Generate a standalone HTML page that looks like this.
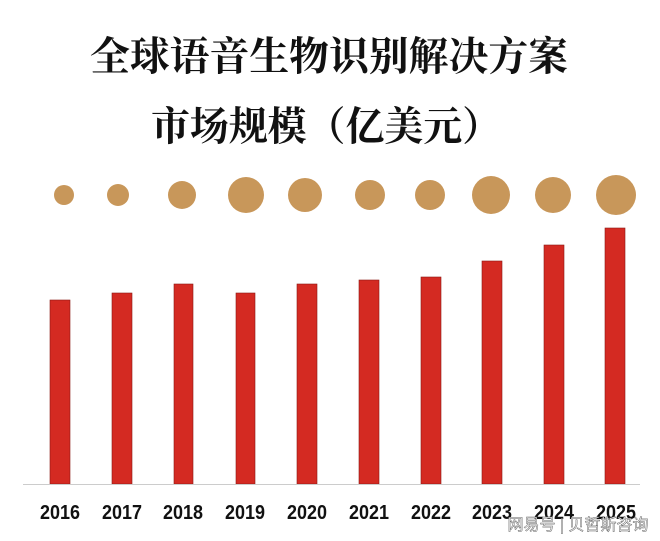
<!DOCTYPE html>
<html><head><meta charset="utf-8"><style>
body{margin:0;background:#fff;}
svg{display:block}
</style></head><body>
<svg width="660" height="541" xmlns="http://www.w3.org/2000/svg">
<rect width="660" height="541" fill="#fff"/>
<g font-family="Liberation Serif, Noto Serif CJK SC, serif" font-weight="bold" fill="#111" text-anchor="middle">
<text x="329" y="70" font-size="40" textLength="478" lengthAdjust="spacingAndGlyphs">全球语音生物识别解决方案</text>
<text x="326" y="140" font-size="40" textLength="350" lengthAdjust="spacingAndGlyphs">市场规模（亿美元）</text>
</g>
<g fill="#c8975a">
<circle cx="64" cy="195" r="10"/>
<circle cx="118" cy="195" r="11"/>
<circle cx="182" cy="195" r="14"/>
<circle cx="246" cy="195" r="18"/>
<circle cx="305" cy="195" r="17"/>
<circle cx="370" cy="195" r="15"/>
<circle cx="430" cy="195" r="15"/>
<circle cx="491" cy="195" r="19"/>
<circle cx="553" cy="195" r="18"/>
<circle cx="616" cy="195" r="20"/>
</g>
<g fill="#d42a22" stroke="#8a1a15" stroke-width="0.6">
<rect x="50" y="300" width="20" height="184"/>
<rect x="112" y="293" width="20" height="191"/>
<rect x="174" y="284" width="19" height="200"/>
<rect x="236" y="293" width="19" height="191"/>
<rect x="297" y="284" width="20" height="200"/>
<rect x="359" y="280" width="20" height="204"/>
<rect x="421" y="277" width="20" height="207"/>
<rect x="482" y="261" width="20" height="223"/>
<rect x="544" y="245" width="20" height="239"/>
<rect x="605" y="228" width="20" height="256"/>
</g>
<line x1="23" y1="484.5" x2="640" y2="484.5" stroke="#ccc" stroke-width="1"/>
<g font-family="Liberation Sans, sans-serif" font-weight="bold" font-size="20" fill="#111" text-anchor="middle">
<text x="60" y="519" textLength="40" lengthAdjust="spacingAndGlyphs">2016</text><text x="122" y="519" textLength="40" lengthAdjust="spacingAndGlyphs">2017</text><text x="183" y="519" textLength="40" lengthAdjust="spacingAndGlyphs">2018</text>
<text x="245" y="519" textLength="40" lengthAdjust="spacingAndGlyphs">2019</text><text x="307" y="519" textLength="40" lengthAdjust="spacingAndGlyphs">2020</text><text x="369" y="519" textLength="40" lengthAdjust="spacingAndGlyphs">2021</text>
<text x="431" y="519" textLength="40" lengthAdjust="spacingAndGlyphs">2022</text><text x="492" y="519" textLength="40" lengthAdjust="spacingAndGlyphs">2023</text><text x="554" y="519" textLength="40" lengthAdjust="spacingAndGlyphs">2024</text>
<text x="616" y="519" textLength="40" lengthAdjust="spacingAndGlyphs">2025</text>
</g>
<text x="578" y="530" font-family="Liberation Sans, Noto Sans CJK SC, sans-serif" font-size="16" fill="#fff" stroke="#666" stroke-width="0.5" text-anchor="middle">网易号 | 贝哲斯咨询</text>
</svg>
</body></html>
